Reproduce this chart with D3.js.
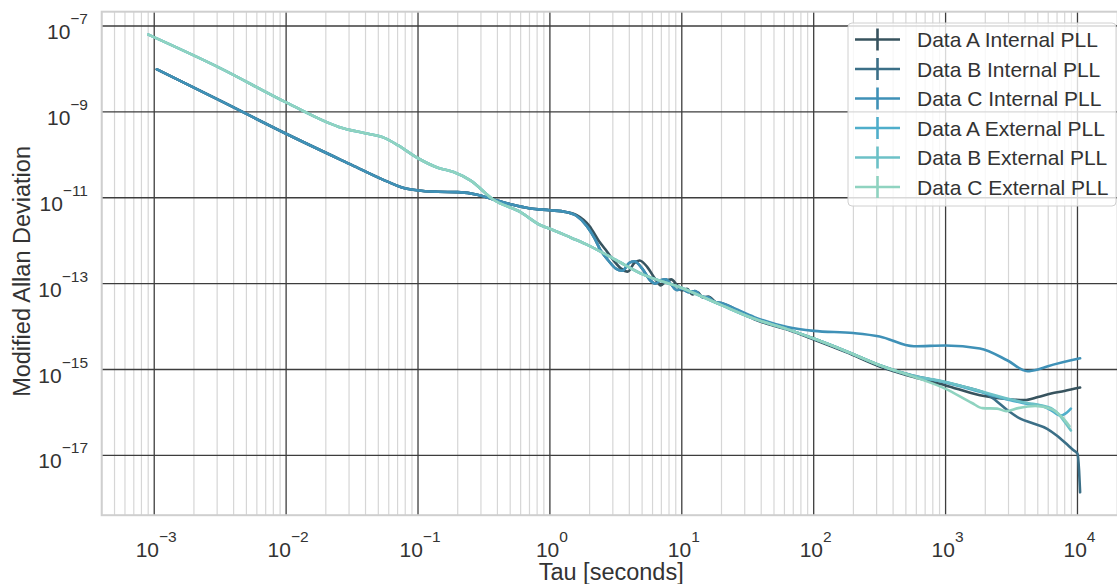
<!DOCTYPE html>
<html><head><meta charset="utf-8">
<script src="https://cdn.jsdelivr.net/npm/d3@7/dist/d3.min.js"></script>
<style>
body{margin:0;background:#fff}
svg{display:block}
text{font-family:"Liberation Sans",Arial,sans-serif;fill:#333}
</style>
</head><body>
<svg id="chart" width="1117" height="584"></svg>
<script>
// ---------------- data ----------------
const seriesNames = ["Data A Internal PLL","Data B Internal PLL","Data C Internal PLL",
                     "Data A External PLL","Data B External PLL","Data C External PLL"];
const seriesColors = ["#37535e","#3b6f87","#3f91b7","#4faecb","#6cc1c7","#8fd3c0"];

const tauAInt = [1.047e-3,3.162e-3,1e-2,3.162e-2,5.623e-2,7.943e-2,0.1,0.1413,0.1995,0.2818,0.3715,0.5012,0.7079,1.0,1.318,1.585,1.995,2.344,2.630,3.020,3.467,3.890,4.365,4.786,5.495,6.310,6.918,7.586,8.318,9.120,10,10.96,12.02,13.18,14.45,15.85,18.62,21.88,28.18,35.48,63.10,100,177.8,316.2,562.3,1000,1820,3162,3981,5012,6310,7943,10470];
const adevAInt = [9.772e-9,1.820e-9,3.090e-10,5.754e-11,2.512e-11,1.660e-11,1.479e-11,1.380e-11,1.349e-11,1.175e-11,9.120e-12,7.079e-12,5.623e-12,5.129e-12,4.677e-12,3.981e-12,2.188e-12,1.000e-12,6.310e-13,3.548e-13,2.239e-13,1.905e-13,3.020e-13,3.467e-13,2.399e-13,1.259e-13,9.120e-14,1.148e-13,1.259e-13,9.550e-14,6.918e-14,7.586e-14,5.623e-14,6.310e-14,4.677e-14,5.012e-14,3.467e-14,3.162e-14,2.089e-14,1.479e-14,8.511e-15,5.012e-15,2.512e-15,1.175e-15,6.761e-16,4.266e-16,2.512e-16,1.995e-16,1.950e-16,2.291e-16,2.754e-16,3.162e-16,3.802e-16];

const tauBInt = [1.047e-3,3.162e-3,1e-2,3.162e-2,5.623e-2,7.943e-2,0.1,0.1413,0.1995,0.2818,0.3715,0.5012,0.7079,1.0,1.318,1.585,1.905,2.188,2.399,2.754,3.162,3.548,3.981,4.365,5.012,5.754,6.310,6.918,7.586,8.318,9.120,10,11.22,12.59,14.13,15.85,17.78,19.95,25.12,35.48,63.10,100,177.8,316.2,562.3,1000,1585,1995,2399,2951,3715,4467,5888,6918,8511,9333,10000,10280,10470];
const adevBInt = [9.772e-9,1.820e-9,3.090e-10,5.754e-11,2.512e-11,1.660e-11,1.479e-11,1.380e-11,1.349e-11,1.175e-11,9.120e-12,7.079e-12,5.623e-12,5.129e-12,4.677e-12,3.802e-12,2.188e-12,1.122e-12,6.310e-13,3.548e-13,2.239e-13,1.995e-13,3.020e-13,3.311e-13,2.239e-13,1.202e-13,1.000e-13,1.202e-13,1.259e-13,9.550e-14,7.079e-14,7.586e-14,6.310e-14,6.761e-14,5.012e-14,4.786e-14,3.715e-14,3.548e-14,2.399e-14,1.514e-14,8.710e-15,5.248e-15,2.630e-15,1.259e-15,7.244e-16,5.012e-16,3.548e-16,2.818e-16,1.905e-16,1.122e-16,7.079e-17,5.754e-17,4.169e-17,2.951e-17,1.698e-17,1.318e-17,1.096e-17,4.467e-18,1.380e-18];

const tauCInt = [1.047e-3,3.162e-3,1e-2,3.162e-2,5.623e-2,7.943e-2,0.1,0.1413,0.1995,0.2818,0.3715,0.5012,0.7079,1.0,1.318,1.585,1.905,2.188,2.399,2.754,3.162,3.548,3.981,4.365,5.012,5.754,6.310,6.918,7.586,8.318,9.120,10,11.22,12.59,14.13,15.85,17.78,19.95,25.12,35.48,63.10,100,199.5,316.2,575.4,1000,1820,2951,4169,5012,5888,10470];
const adevCInt = [9.772e-9,1.820e-9,3.090e-10,5.754e-11,2.512e-11,1.660e-11,1.479e-11,1.380e-11,1.349e-11,1.175e-11,9.120e-12,7.079e-12,5.623e-12,5.129e-12,4.677e-12,3.802e-12,2.188e-12,1.122e-12,6.310e-13,3.548e-13,2.239e-13,1.995e-13,3.020e-13,3.311e-13,2.239e-13,1.202e-13,1.000e-13,1.202e-13,1.259e-13,9.550e-14,7.079e-14,7.586e-14,6.310e-14,6.761e-14,5.012e-14,4.786e-14,3.715e-14,3.548e-14,2.630e-14,1.660e-14,9.772e-15,7.943e-15,7.079e-15,5.888e-15,3.467e-15,3.631e-15,3.090e-15,1.622e-15,9.120e-16,1.000e-15,1.175e-15,1.820e-15];

const tauAExt = [9.016e-4,3.162e-3,1e-2,2.512e-2,3.981e-2,5.495e-2,7.079e-2,0.1,0.1413,0.1862,0.2512,0.3715,0.6026,0.8511,1,1.445,1.995,3.162,5.012,10,19.95,35.48,63.10,100,177.8,316.2,562.3,1000,1820,3162,4169,5248,6310,7413,8318,8913];
const adevAExt = [6.310e-8,1.047e-8,1.660e-9,4.467e-10,3.162e-10,2.512e-10,1.660e-10,8.318e-11,5.012e-11,3.981e-11,2.512e-11,9.120e-12,4.571e-12,2.291e-12,1.905e-12,1.175e-12,7.586e-13,3.548e-13,1.660e-13,7.943e-14,3.162e-14,1.514e-14,8.710e-15,5.248e-15,2.630e-15,1.259e-15,7.079e-16,5.012e-16,3.020e-16,1.905e-16,1.585e-16,1.445e-16,1.122e-16,8.511e-17,1.000e-16,1.230e-16];

const tauBExt = [9.016e-4,3.162e-3,1e-2,2.512e-2,3.981e-2,5.495e-2,7.079e-2,0.1,0.1413,0.1862,0.2512,0.3715,0.6026,0.8511,1,1.445,1.995,3.162,5.012,10,19.95,35.48,63.10,100,177.8,316.2,562.3,1000,1820,3162,4169,5248,6310,7244,8128,8913];
const adevBExt = [6.310e-8,1.047e-8,1.660e-9,4.467e-10,3.162e-10,2.512e-10,1.660e-10,8.318e-11,5.012e-11,3.981e-11,2.512e-11,9.120e-12,4.571e-12,2.291e-12,1.905e-12,1.175e-12,7.586e-13,3.548e-13,1.660e-13,7.943e-14,3.162e-14,1.514e-14,8.710e-15,5.248e-15,2.630e-15,1.259e-15,7.244e-16,5.129e-16,3.162e-16,1.995e-16,1.660e-16,1.479e-16,1.259e-16,8.913e-17,5.623e-17,3.802e-17];

const tauCExt = [9.016e-4,3.162e-3,1e-2,2.512e-2,3.981e-2,5.495e-2,7.079e-2,0.1,0.1413,0.1862,0.2512,0.3715,0.6026,0.8511,1,1.445,1.995,3.162,5.012,10,19.95,35.48,63.10,100,177.8,316.2,562.3,1000,1585,1905,2455,2884,3548,4786,6310,7586,8710];
const adevCExt = [6.310e-8,1.047e-8,1.660e-9,4.467e-10,3.162e-10,2.512e-10,1.660e-10,8.318e-11,5.012e-11,3.981e-11,2.512e-11,9.120e-12,4.571e-12,2.291e-12,1.905e-12,1.175e-12,7.586e-13,3.548e-13,1.660e-13,7.943e-14,3.162e-14,1.514e-14,8.710e-15,5.248e-15,2.630e-15,1.259e-15,6.918e-16,3.548e-16,1.660e-16,1.259e-16,1.230e-16,1.072e-16,1.259e-16,1.413e-16,1.202e-16,7.943e-17,4.786e-17];

const xTickExponents = [-3,-2,-1,0,1,2,3,4];
const yTickExponents = [-7,-9,-11,-13,-15,-17];
const xAxisTitle = "Tau [seconds]";
const yAxisTitle = "Modified Allan Deviation";

// ---------------- layout ----------------
const W = 1117, H = 584;
const plot = {left: 101.7, top: 11.7, width: 1025, height: 503.5};
const FONT_TICK = 21, FONT_SUP = 15.5, FONT_LABEL = 23.5, FONT_LEGEND = 21;

const series = [
  {tau: tauAInt, adev: adevAInt},
  {tau: tauBInt, adev: adevBInt},
  {tau: tauCInt, adev: adevCInt},
  {tau: tauAExt, adev: adevAExt},
  {tau: tauBExt, adev: adevBExt},
  {tau: tauCExt, adev: adevCExt}
].map((s, i) => ({name: seriesNames[i], color: seriesColors[i], points: s.tau.map((t, j) => [t, s.adev[j]])}));

// log-space 5% margins like matplotlib autoscale
function logDomain(vals) {
  const lo = Math.log10(d3.min(vals)), hi = Math.log10(d3.max(vals));
  const pad = 0.05 * (hi - lo);
  return [Math.pow(10, lo - pad), Math.pow(10, hi + pad)];
}
const allTau = series.flatMap(s => s.points.map(p => p[0]));
const allDev = series.flatMap(s => s.points.map(p => p[1]));

const x = d3.scaleLog().domain(logDomain(allTau)).range([plot.left, plot.left + plot.width]);
const y = d3.scaleLog().domain(logDomain(allDev)).range([plot.top + plot.height, plot.top]);

const svg = d3.select("#chart");
svg.append("rect").attr("width", W).attr("height", H).attr("fill", "#fff");

const defs = svg.append("defs");
defs.append("clipPath").attr("id", "plotclip").append("rect")
  .attr("x", plot.left).attr("y", plot.top).attr("width", plot.width).attr("height", plot.height);

const grid = svg.append("g");
// minor vertical grid
const [xd0, xd1] = x.domain();
const minorX = [];
for (let e = Math.floor(Math.log10(xd0)); e <= Math.ceil(Math.log10(xd1)); e++) {
  for (let k = 2; k <= 9; k++) {
    const v = k * Math.pow(10, e);
    if (v > xd0 && v < xd1) minorX.push(v);
  }
}
grid.selectAll("line.minx").data(minorX).enter().append("line")
  .attr("x1", d => x(d)).attr("x2", d => x(d))
  .attr("y1", plot.top).attr("y2", plot.top + plot.height)
  .attr("stroke", "#d6d6d6").attr("stroke-width", 1.2);
// major grid
grid.selectAll("line.majx").data(xTickExponents).enter().append("line")
  .attr("x1", d => x(Math.pow(10, d))).attr("x2", d => x(Math.pow(10, d)))
  .attr("y1", plot.top).attr("y2", plot.top + plot.height)
  .attr("stroke", "#3d3d3d").attr("stroke-width", 1.3);
grid.selectAll("line.majy").data(yTickExponents).enter().append("line")
  .attr("y1", d => y(Math.pow(10, d))).attr("y2", d => y(Math.pow(10, d)))
  .attr("x1", plot.left).attr("x2", plot.left + plot.width)
  .attr("stroke", "#3d3d3d").attr("stroke-width", 1.3);

// frame
svg.append("rect").attr("x", plot.left).attr("y", plot.top)
  .attr("width", plot.width).attr("height", plot.height)
  .attr("fill", "none").attr("stroke", "#cfcfcf").attr("stroke-width", 2);

// lines
const line = d3.line().x(d => x(d[0])).y(d => y(d[1])).curve(d3.curveMonotoneX);
svg.append("g").attr("clip-path", "url(#plotclip)")
  .selectAll("path").data(series).enter().append("path")
  .attr("d", d => line(d.points))
  .attr("fill", "none").attr("stroke", d => d.color)
  .attr("stroke-width", 2.6).attr("stroke-linejoin", "round").attr("stroke-linecap", "round");

// tick labels
function powLabel(sel, e) {
  sel.append("tspan").text("10");
  sel.append("tspan").attr("dy", -15).attr("font-size", FONT_SUP)
    .text(e < 0 ? "\u2212" + (-e) : String(e));
}
svg.append("g").selectAll("text").data(xTickExponents).enter().append("text")
  .attr("x", d => x(Math.pow(10, d)) + 2).attr("y", 557)
  .attr("text-anchor", "middle").attr("font-size", FONT_TICK)
  .each(function(d) { powLabel(d3.select(this), d); });
svg.append("g").selectAll("text").data(yTickExponents).enter().append("text")
  .attr("x", 88).attr("y", d => y(Math.pow(10, d)) + 13)
  .attr("text-anchor", "end").attr("font-size", FONT_TICK)
  .each(function(d) { powLabel(d3.select(this), d); });

// axis titles
svg.append("text").attr("x", plot.left + plot.width / 2 - 3).attr("y", 580)
  .attr("text-anchor", "middle").attr("font-size", FONT_LABEL).text(xAxisTitle);
svg.append("text").attr("transform", `translate(30,${plot.top + plot.height / 2 + 8}) rotate(-90)`)
  .attr("text-anchor", "middle").attr("font-size", FONT_LABEL).text(yAxisTitle);

// legend
const leg = svg.append("g").attr("transform", "translate(848,23)");
leg.append("rect").attr("width", 268).attr("height", 183).attr("rx", 4)
  .attr("fill", "#fff").attr("fill-opacity", 0.8).attr("stroke", "#d0d0d0").attr("stroke-width", 1);
const rows = leg.selectAll("g.row").data(series).enter().append("g")
  .attr("transform", (d, i) => `translate(0,${16.5 + i * 29.5})`);
rows.append("line").attr("x1", 7).attr("x2", 52).attr("y1", 0).attr("y2", 0)
  .attr("stroke", d => d.color).attr("stroke-width", 2.6);
rows.append("line").attr("x1", 29.5).attr("x2", 29.5).attr("y1", -11).attr("y2", 11)
  .attr("stroke", d => d.color).attr("stroke-width", 2.6);
rows.append("text").attr("x", 69).attr("y", 0).attr("dy", "0.36em")
  .attr("font-size", FONT_LEGEND).text(d => d.name);
</script>
</body></html>
